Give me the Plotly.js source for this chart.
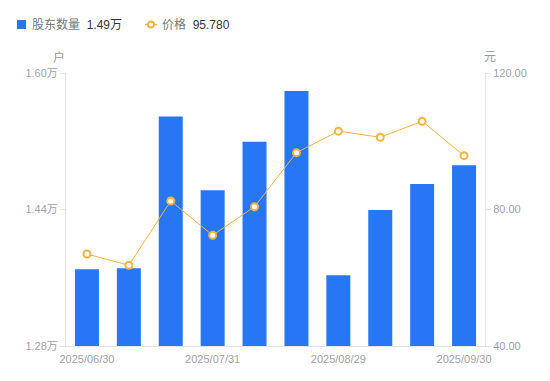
<!DOCTYPE html>
<html>
<head>
<meta charset="utf-8">
<script src="https://cdn.plot.ly/plotly-3.0.1.min.js"></script>
<style>
html,body{margin:0;padding:0;background:#fff;}
#chart{width:550px;height:381px;}
</style>
</head>
<body>
<div id="chart"></div>
<script>
const dates = ['2025/06/30','2025/07/10','2025/07/18','2025/07/31','2025/08/08','2025/08/20','2025/08/29','2025/09/10','2025/09/19','2025/09/30'];
const holders = [1.370, 1.371, 1.549, 1.4625, 1.5195, 1.579, 1.363, 1.4394, 1.470, 1.4918]; // 万户
const price = [66.96, 63.65, 82.49, 72.44, 80.82, 96.65, 102.95, 101.16, 105.85, 95.78];
const tickDates = ['2025/06/30','2025/07/31','2025/08/29','2025/09/30'];
const leftTicks = [1.28, 1.44, 1.60];
const rightTicks = [40, 80, 120];

const BLUE = '#2777F5';
const ORANGE = '#F6B23A';
const FONT = 'Liberation Sans, Arial, Noto Sans CJK SC, sans-serif';

// pixel -> paper helpers (plot area: x 66..485, y 73..346)
const L = 66, R = 485, T = 73, B = 346;
const px = v => (v - L) / (R - L);
const py = v => (B - v) / (B - T);

const traces = [
  {
    type: 'bar', x: dates, y: holders, name: '股东数量',
    marker: {color: BLUE}, yaxis: 'y', hoverinfo: 'x+y'
  },
  {
    type: 'scatter', mode: 'lines+markers', x: dates, y: price, name: '价格',
    yaxis: 'y2',
    line: {color: ORANGE, width: 1},
    marker: {symbol: 'circle', size: 7, color: '#ffffff', line: {color: ORANGE, width: 2}}
  }
];

const lastH = holders[holders.length - 1].toFixed(2) + '万';
const lastP = price[price.length - 1].toFixed(3);

const layout = {
  width: 550, height: 381,
  margin: {l: L, r: 550 - R, t: T, b: 381 - B, pad: 0},
  paper_bgcolor: '#fff', plot_bgcolor: '#fff',
  showlegend: false,
  bargap: 0.427,
  font: {family: FONT, size: 11, color: '#999'},
  xaxis: {
    type: 'category', range: [-0.5, dates.length - 0.5],
    tickmode: 'array', tickvals: tickDates, ticktext: tickDates,
    showline: true, linecolor: '#e3e3e3', linewidth: 1,
    ticks: 'outside', ticklen: 3, tickcolor: 'rgba(0,0,0,0)',
    showgrid: false, zeroline: false,
    tickfont: {size: 11, color: '#a0a0a8'}
  },
  yaxis: {
    range: [1.28, 1.60], tickmode: 'array', tickvals: leftTicks,
    ticktext: leftTicks.map(v => v.toFixed(2) + '万'),
    showline: true, linecolor: '#e3e3e3', linewidth: 1,
    ticks: 'outside', ticklen: 5, tickcolor: '#e3e3e3',
    showgrid: false, zeroline: false,
    tickfont: {size: 11, color: '#a0a0a8'}
  },
  yaxis2: {
    overlaying: 'y', side: 'right',
    range: [40, 120], tickmode: 'array', tickvals: rightTicks,
    ticktext: rightTicks.map(v => v.toFixed(2)),
    showline: true, linecolor: '#e3e3e3', linewidth: 1,
    ticks: 'outside', ticklen: 5, tickcolor: '#e3e3e3',
    showgrid: false, zeroline: false,
    tickfont: {size: 11, color: '#a0a0a8'}
  },
  shapes: [
    {type: 'rect', xref: 'paper', yref: 'paper',
     x0: px(17), x1: px(26), y0: py(29), y1: py(20),
     fillcolor: BLUE, line: {width: 0}},
    {type: 'line', xref: 'paper', yref: 'paper',
     x0: px(145), x1: px(157), y0: py(24.5), y1: py(24.5),
     line: {color: ORANGE, width: 1.5}},
    {type: 'circle', xref: 'paper', yref: 'paper',
     x0: px(148), x1: px(154), y0: py(27.5), y1: py(21.5),
     fillcolor: '#fff', line: {color: ORANGE, width: 1.8}}
  ],
  annotations: [
    {xref: 'paper', yref: 'paper', x: px(30), y: py(24.5), xanchor: 'left', yanchor: 'middle',
     showarrow: false, font: {size: 12, color: '#777', family: FONT},
     text: '股东数量  <span style="color:#333">' + lastH + '</span>'},
    {xref: 'paper', yref: 'paper', x: px(160), y: py(24.5), xanchor: 'left', yanchor: 'middle',
     showarrow: false, font: {size: 12, color: '#777', family: FONT},
     text: '价格  <span style="color:#333">' + lastP + '</span>'},
    {xref: 'paper', yref: 'paper', x: px(59), y: py(57), xanchor: 'center', yanchor: 'middle',
     showarrow: false, font: {size: 12, color: '#999', family: FONT}, text: '户'},
    {xref: 'paper', yref: 'paper', x: px(490), y: py(57), xanchor: 'center', yanchor: 'middle',
     showarrow: false, font: {size: 12, color: '#999', family: FONT}, text: '元'}
  ]
};

Plotly.newPlot('chart', traces, layout, {displayModeBar: false, staticPlot: true});
</script>
</body>
</html>
